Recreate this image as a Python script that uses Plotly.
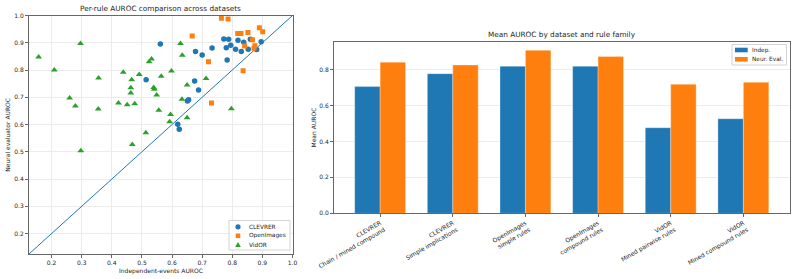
import plotly.graph_objects as go

W, H = 796, 279

# ---- scatter data ----
clevrer_x = [0.561, 0.514, 0.678, 0.700, 0.733, 0.772, 0.788, 0.780, 0.795, 0.783, 0.811, 0.819,
             0.830, 0.838, 0.860, 0.853, 0.881, 0.896, 0.675, 0.688, 0.655, 0.651, 0.619, 0.624]
clevrer_y = [0.895, 0.764, 0.868, 0.855, 0.881, 0.914, 0.913, 0.882, 0.891, 0.837, 0.876, 0.909,
             0.868, 0.902, 0.913, 0.876, 0.875, 0.904, 0.760, 0.727, 0.691, 0.686, 0.601, 0.583]

openimages_x = [0.764, 0.786, 0.667, 0.818, 0.829, 0.852, 0.890, 0.901, 0.867, 0.875, 0.841,
                0.721, 0.836, 0.731, 0.872]
openimages_y = [0.990, 0.987, 0.925, 0.934, 0.934, 0.938, 0.955, 0.940, 0.911, 0.889, 0.888,
                0.830, 0.797, 0.679, 0.880]

vidor_x = [0.157, 0.209, 0.296, 0.260, 0.279, 0.356, 0.355, 0.438, 0.466, 0.463, 0.463, 0.422,
           0.451, 0.476, 0.491, 0.524, 0.532, 0.539, 0.541, 0.549, 0.564, 0.556, 0.598, 0.595,
           0.628, 0.634, 0.650, 0.633, 0.592, 0.650, 0.713, 0.797, 0.513, 0.297, 0.468]
vidor_y = [0.848, 0.800, 0.897, 0.697, 0.668, 0.771, 0.657, 0.792, 0.764, 0.735, 0.716, 0.679,
           0.673, 0.676, 0.784, 0.830, 0.840, 0.736, 0.729, 0.708, 0.777, 0.652, 0.796, 0.637,
           0.897, 0.854, 0.745, 0.693, 0.610, 0.625, 0.769, 0.658, 0.570, 0.504, 0.527]

diag = [0.0, 1.0]

# ---- bar data ----
families = ["CLEVRER<br>Chain / mined compound", "CLEVRER<br>Simple implications",
            "OpenImages<br>simple rules", "OpenImages<br>compound rules",
            "VidOR<br>Mined pairwise rules", "VidOR<br>Mined compound rules"]
indep = [0.705, 0.777, 0.818, 0.818, 0.476, 0.526]
neur_eval = [0.841, 0.825, 0.907, 0.872, 0.718, 0.729]

scatter_names = ["CLEVRER", "OpenImages", "VidOR"]
bar_names = ["Indep.", "Neur. Eval."]

BLUE, ORANGE, GREEN = "#1f77b4", "#ff7f0e", "#2ca02c"
FONT = "DejaVu Sans"
TXT = "#262626"
SPINE = "#666666"
GRID = "#ececec"


def px_x(p):
    return p / W


def px_y(p):
    return 1 - p / H


fig = go.Figure()

fig.add_trace(go.Scatter(x=diag, y=diag, mode="lines", line=dict(color=BLUE, width=1),
                         showlegend=False, xaxis="x", yaxis="y", hoverinfo="skip"))
fig.add_trace(go.Scatter(x=clevrer_x, y=clevrer_y, mode="markers", name=scatter_names[0],
                         marker=dict(symbol="circle", size=5.5, color=BLUE),
                         xaxis="x", yaxis="y", showlegend=False))
fig.add_trace(go.Scatter(x=openimages_x, y=openimages_y, mode="markers", name=scatter_names[1],
                         marker=dict(symbol="square", size=5, color=ORANGE),
                         xaxis="x", yaxis="y", showlegend=False))
fig.add_trace(go.Scatter(x=vidor_x, y=vidor_y, mode="markers", name=scatter_names[2],
                         marker=dict(symbol="triangle-up", size=6, color=GREEN),
                         xaxis="x", yaxis="y", showlegend=False))

edge = dict(width=0.6, color="rgba(255,255,255,0.5)")
fig.add_trace(go.Bar(x=families, y=indep, name=bar_names[0], marker=dict(color=BLUE, line=edge),
                     xaxis="x2", yaxis="y2", showlegend=False))
fig.add_trace(go.Bar(x=families, y=neur_eval, name=bar_names[1], marker=dict(color=ORANGE, line=edge),
                     xaxis="x2", yaxis="y2", showlegend=False))

tickfont = dict(family=FONT, size=6, color=TXT)
common_axis = dict(showline=True, linecolor=SPINE, linewidth=1, mirror=True,
                   ticks="outside", ticklen=3, tickwidth=0.8, tickcolor=SPINE,
                   tickfont=tickfont, zeroline=False, automargin=False)

sx0, sx1, sy0, sy1 = 29, 292.5, 15.5, 254
bx0, bx1, by0, by1 = 334, 789.5, 41.7, 213.3

fig.update_layout(
    width=W, height=H,
    margin=dict(l=0, r=0, t=0, b=0),
    paper_bgcolor="white", plot_bgcolor="white",
    barmode="group", bargap=0.3, bargroupgap=0.0,
    font=dict(family=FONT, size=6, color=TXT),
    showlegend=False,
    xaxis=dict(domain=[px_x(sx0), px_x(sx1)], range=[0.125, 1.0], anchor="y",
               tickvals=[0.2, 0.3, 0.4, 0.5, 0.6, 0.7, 0.8, 0.9, 1.0], tickformat=".1f",
               showgrid=True, gridcolor=GRID, gridwidth=1, **common_axis),
    yaxis=dict(domain=[px_y(sy1), px_y(sy0)], range=[0.125, 1.0], anchor="x",
               tickvals=[0.2, 0.3, 0.4, 0.5, 0.6, 0.7, 0.8, 0.9, 1.0], tickformat=".1f",
               showgrid=True, gridcolor=GRID, gridwidth=1, **common_axis),
    xaxis2=dict(domain=[px_x(bx0), px_x(bx1)], range=[-0.635, 5.635], anchor="y2",
                type="category", tickangle=-30, showgrid=False, **common_axis),
    yaxis2=dict(domain=[px_y(by1), px_y(by0)], range=[0, 0.955], anchor="x2",
                tickvals=[0.0, 0.2, 0.4, 0.6, 0.8], tickformat=".1f",
                showgrid=True, gridcolor=GRID, gridwidth=1, **common_axis),
)

annots = [
    dict(text="Per-rule AUROC comparison across datasets", x=px_x((sx0 + sx1) / 2), y=px_y(8),
         font=dict(family=FONT, size=7.3, color=TXT)),
    dict(text="Mean AUROC by dataset and rule family", x=px_x((bx0 + bx1) / 2), y=px_y(35),
         font=dict(family=FONT, size=7.3, color=TXT)),
    dict(text="Independent-events AUROC", x=px_x((sx0 + sx1) / 2), y=px_y(271),
         font=dict(family=FONT, size=6, color=TXT)),
    dict(text="Neural evaluator AUROC", x=px_x(8), y=px_y((sy0 + sy1) / 2), textangle=-90,
         font=dict(family=FONT, size=6, color=TXT)),
    dict(text="Mean AUROC", x=px_x(313), y=px_y((by0 + by1) / 2), textangle=-90,
         font=dict(family=FONT, size=6, color=TXT)),
]
for a in annots:
    fig.add_annotation(xref="paper", yref="paper", showarrow=False,
                       xanchor="center", yanchor="middle", **a)


# ---- hand-built legends (matplotlib-style compact boxes) ----
def box(x0, y0, x1, y1):
    fig.add_shape(type="rect", xref="paper", yref="paper", layer="above",
                  x0=px_x(x0), x1=px_x(x1), y0=px_y(y1), y1=px_y(y0),
                  fillcolor="rgba(255,255,255,0.85)", line=dict(color="#d4d4d4", width=1))


def label(text, x, y, size=6):
    fig.add_annotation(xref="paper", yref="paper", showarrow=False, text=text,
                       x=px_x(x), y=px_y(y), xanchor="left", yanchor="middle",
                       font=dict(family=FONT, size=size, color=TXT))


# scatter legend
box(229, 220.5, 290, 250)
rows = [226.8, 235.8, 244.8]
mx, r = 238.0, 2.6
cy = rows[0]
fig.add_shape(type="circle", xref="paper", yref="paper", layer="above",
              x0=px_x(mx - r), x1=px_x(mx + r), y0=px_y(cy + r), y1=px_y(cy - r),
              fillcolor=BLUE, line=dict(width=0))
cy = rows[1]
s = 2.3
fig.add_shape(type="rect", xref="paper", yref="paper", layer="above",
              x0=px_x(mx - s), x1=px_x(mx + s), y0=px_y(cy + s), y1=px_y(cy - s),
              fillcolor=ORANGE, line=dict(width=0))
cy = rows[2]
t = 2.8
path = "M {:.5f},{:.5f} L {:.5f},{:.5f} L {:.5f},{:.5f} Z".format(
    px_x(mx - t), px_y(cy + t * 0.8), px_x(mx + t), px_y(cy + t * 0.8), px_x(mx), px_y(cy - t))
fig.add_shape(type="path", xref="paper", yref="paper", layer="above", path=path,
              fillcolor=GREEN, line=dict(width=0))
for name, cy in zip(scatter_names, rows):
    label(name, 247.0, cy, size=5.8)

# bar legend
box(732, 44.5, 786.5, 65)
brows = [50.0, 59.3]
for col, cy in zip([BLUE, ORANGE], brows):
    fig.add_shape(type="rect", xref="paper", yref="paper", layer="above",
                  x0=px_x(735), x1=px_x(747.7), y0=px_y(cy + 2.3), y1=px_y(cy - 2.3),
                  fillcolor=col, line=dict(width=0))
for name, cy in zip(bar_names, brows):
    label(name, 750.0, cy, size=5.8)

fig.write_html("out.html")
